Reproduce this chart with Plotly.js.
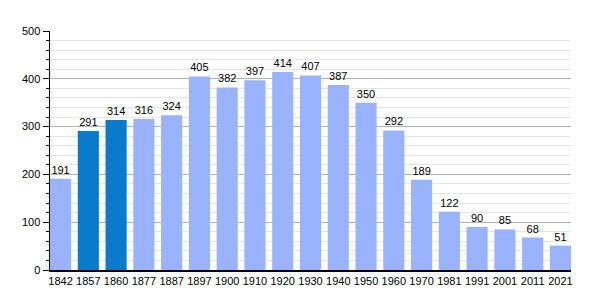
<!DOCTYPE html>
<html><head><meta charset="utf-8">
<script src="https://cdn.plot.ly/plotly-3.0.1.min.js"></script>
<style>html,body{margin:0;padding:0;background:#fff}#c{width:600px;height:300px}</style>
</head><body><div id="c"></div>
<script>
const years = ["1842","1857","1860","1877","1887","1897","1900","1910","1920","1930","1940","1950","1960","1970","1981","1991","2001","2011","2021"];
const population = [191,291,314,316,324,405,382,397,414,407,387,350,292,189,122,90,85,68,51];
const highlighted = ["1857","1860"];
const colors = years.map(y => highlighted.includes(y) ? "#0a7bca" : "#99b3ff");
Plotly.newPlot("c", [{
  type: "bar", x: years, y: population,
  marker: {color: colors, line: {width: 0}},
  text: population.map(String), textposition: "outside", cliponaxis: false,
  textfont: {family: "Liberation Sans, Arial, sans-serif", size: 11, color: "#000"},
  hoverinfo: "none"
}], {
  width: 600, height: 300,
  margin: {l: 50, r: 29, t: 31, b: 30},
  paper_bgcolor: "#fff", plot_bgcolor: "#fff",
  bargap: 0.24,
  showlegend: false,
  font: {family: "Liberation Sans, Arial, sans-serif", size: 11, color: "#000"},
  xaxis: {type: "category", range: [-0.38, 18.38], showline: true, linecolor: "#000", linewidth: 1.5,
          ticks: "", showgrid: false, tickfont: {size: 11}, fixedrange: true},
  yaxis: {range: [0, 500], dtick: 100, showline: true, linecolor: "#000", linewidth: 1.5,
          ticks: "outside", ticklen: 6, tickcolor: "#000", gridcolor: "#b4b4b4", gridwidth: 1,
          zeroline: false, tickfont: {size: 11},
          minor: {dtick: 20, ticks: "outside", ticklen: 3, tickcolor: "#000", showgrid: true, gridcolor: "#e6e6e6", gridwidth: 1}}
}, {staticPlot: true});
</script></body></html>
